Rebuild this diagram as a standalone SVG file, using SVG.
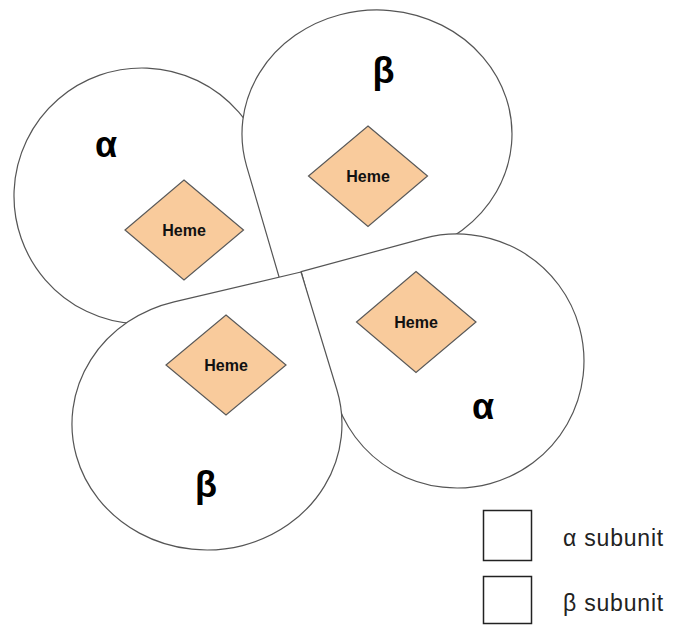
<svg xmlns="http://www.w3.org/2000/svg" width="685" height="625" viewBox="0 0 685 625">
  <style>
    .sub { fill: #ffffff; stroke: #555555; stroke-width: 1.2; stroke-linejoin: miter; }
    .heme { fill: #f9cb9c; stroke: #595959; stroke-width: 1.2; }
    .heme-t { font-family: "Liberation Sans", Arial, sans-serif; font-weight: bold; font-size: 16px; fill: #111111; text-anchor: middle; dominant-baseline: central; }
    .greek { font-family: "Liberation Sans", Arial, sans-serif; font-weight: bold; font-size: 36px; fill: #000000; text-anchor: middle; }
    .key { fill: #ffffff; stroke: #222222; stroke-width: 1.5; }
    .key-t { font-family: "Liberation Sans", Arial, sans-serif; font-size: 23px; letter-spacing: 0.8px; fill: #222222; }
  </style>
  <rect width="685" height="625" fill="#ffffff"/>

  <g id="alpha-top-left">
    <path class="sub" d="M 305.1 274.5 L 262.8 153.7 A 128 128 0 1 0 184.3 316.8 Z"/>
  </g>
  <g id="beta-top">
    <path class="sub" d="M 283.3 291.5 L 246.6 166.1 A 135 124 0 1 1 418 252.1 Z"/>
  </g>
  <g id="alpha-bottom-right">
    <path class="sub" d="M 301.2 271.6 L 423.8 238.4 A 127 127 0 1 1 334.4 394.2 Z"/>
  </g>
  <g id="beta-bottom-left">
    <path class="sub" d="M 301 272 L 174.1 301.8 A 135 126 0 1 0 336.8 389.5 Z"/>
  </g>

  <g id="heme-1">
    <polygon class="heme" points="184,180 243.5,230 184,280 125,230"/>
    <text class="heme-t" x="184" y="230">Heme</text>
  </g>
  <g id="heme-2">
    <polygon class="heme" points="368,126 427.5,176 368,226.5 308.5,176"/>
    <text class="heme-t" x="368" y="176">Heme</text>
  </g>
  <g id="heme-3">
    <polygon class="heme" points="226,315 286,365 226,415 166,365"/>
    <text class="heme-t" x="226" y="365">Heme</text>
  </g>
  <g id="heme-4">
    <polygon class="heme" points="416,271.5 476,322 416,372.5 356.5,322"/>
    <text class="heme-t" x="416" y="322">Heme</text>
  </g>

  <g id="labels">
    <text class="greek" x="106" y="157">α</text>
    <text class="greek" x="383.5" y="83">β</text>
    <text class="greek" x="206" y="497">β</text>
    <text class="greek" x="483" y="419">α</text>
  </g>

  <g id="legend">
    <rect class="key" x="483.5" y="510.5" width="48" height="50"/>
    <text class="key-t" x="563" y="546">α subunit</text>
    <rect class="key" x="483.5" y="576.5" width="48" height="47"/>
    <text class="key-t" x="563" y="611">β subunit</text>
  </g>
</svg>
